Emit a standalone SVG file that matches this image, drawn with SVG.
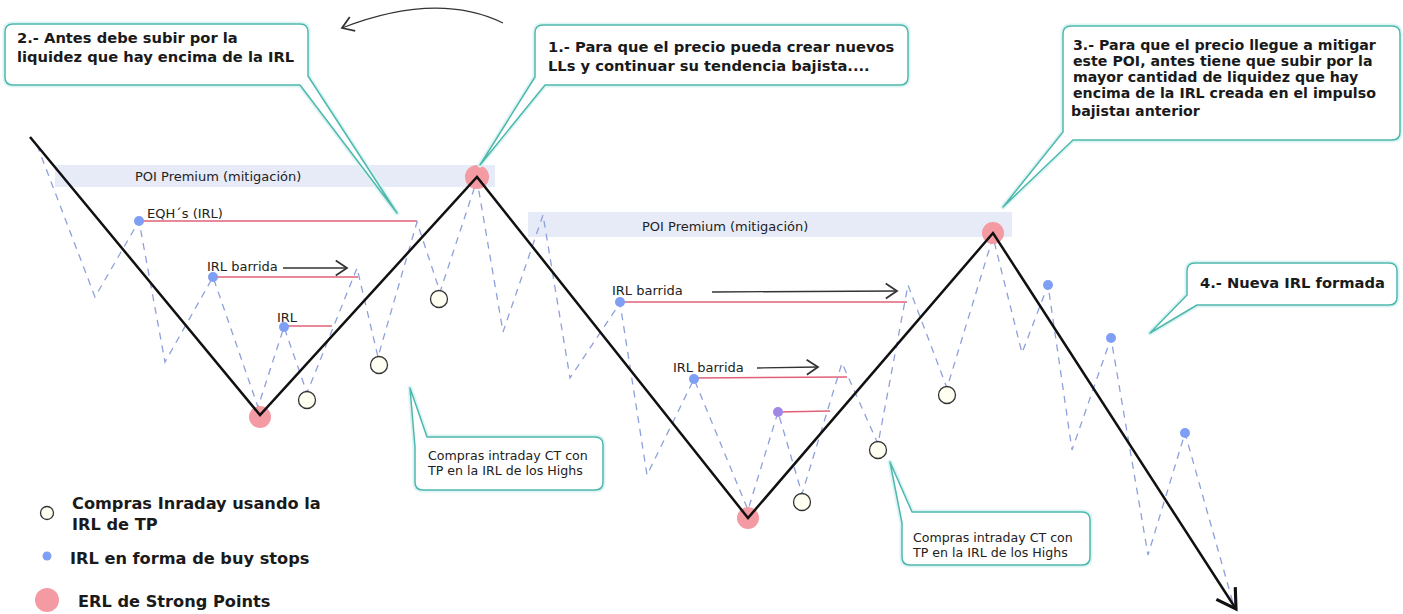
<svg xmlns="http://www.w3.org/2000/svg" width="1403" height="614" viewBox="0 0 1403 614">
<style>
.band{fill:#e7ebf8}
.red{stroke:#e0607a;stroke-width:1.5;fill:none}
.dash{stroke:#8ea0dc;stroke-width:1.3;stroke-dasharray:7 6;fill:none}
.main{stroke:#111;stroke-width:2.5;fill:none;stroke-linejoin:miter}
.erl{fill:#f39aa3}
.irl{fill:#7f9ff5}
.oc{fill:#fffff2;stroke:#333;stroke-width:1.3}
.glow{fill:none;stroke:#dcf4f3;stroke-width:5;stroke-linejoin:round}
.co{fill:#fff;stroke:#4fb8ae;stroke-width:1.5;stroke-linejoin:round}
.ct{font-family:"DejaVu Sans",Verdana,sans-serif;font-weight:bold;font-size:14.7px;fill:#1a1a1a}
.ct3{font-family:"DejaVu Sans",Verdana,sans-serif;font-weight:bold;font-size:14.2px;fill:#1a1a1a}
.lb{font-family:"DejaVu Sans",Verdana,sans-serif;font-size:13px;fill:#222}
.st{font-family:"DejaVu Sans",Verdana,sans-serif;font-size:12.6px;fill:#222}
.lg{font-family:"DejaVu Sans",Verdana,sans-serif;font-weight:bold;font-size:16.2px;fill:#1a1a1a}
.arr{stroke:#333;stroke-width:1.3;fill:none}
</style>
<defs>
<marker id="ah" markerUnits="userSpaceOnUse" markerWidth="20" markerHeight="20" viewBox="-12 -8 14 16" refX="0" refY="0" orient="auto">
<path d="M-9,-6 L0,0 L-9,6" fill="none" stroke="#333" stroke-width="1.4"/>
</marker>
<marker id="bh" markerUnits="userSpaceOnUse" markerWidth="30" markerHeight="30" viewBox="-18 -12 22 24" refX="0" refY="0" orient="auto">
<path d="M-15,-9 L0,0 L-15,9" fill="none" stroke="#111" stroke-width="2.5"/>
</marker>
</defs>
<rect width="1403" height="614" fill="#fff"/>

<g id="poi-bands">
<rect class="band" x="55" y="165" width="440" height="22"/>
<text class="lb" x="135" y="181">POI Premium (mitigación)</text>
<rect class="band" x="528" y="212" width="484" height="25"/>
<text class="lb" x="642" y="231">POI Premium (mitigación)</text>
</g>

<g id="irl-lines">
<line class="red" x1="139" y1="221" x2="417" y2="221"/>
<line class="red" x1="213" y1="277" x2="358" y2="277"/>
<line class="red" x1="284" y1="326" x2="332" y2="326"/>
<line class="red" x1="620" y1="302" x2="907" y2="302"/>
<line class="red" x1="694" y1="378" x2="847" y2="377"/>
<line class="red" x1="778" y1="412" x2="830" y2="411"/>
</g>

<g id="connectors">
<path class="dash" d="M37,145 L95,297 L139,221 L165,362 L213,277 L258,407 L284,327 L307,393 L357,268 L378,357 L417,222 L440,292 L477,180 L503,332 L543,215 L570,378 L620,303 L647,475 L694,379 L748,510 L778,412 L802,494 L842,363 L878,444 L908,285 L947,388 L993,237 L1022,353 L1048,285 L1072,450 L1111,338 L1148,555 L1185,433 L1233,603"/>
<g id="erl-points">
<circle class="erl" cx="260" cy="417" r="11"/>
<circle class="erl" cx="477" cy="177" r="12"/>
<circle class="erl" cx="748" cy="518" r="11"/>
<circle class="erl" cx="993" cy="233" r="11"/>
</g>
<path class="main" d="M30,137 L260,415 L477,177 L748,518 L993,233 L1236,609" marker-end="url(#bh)"/>
<line class="arr" x1="283" y1="268" x2="347" y2="268" marker-end="url(#ah)"/>
<line class="arr" x1="712" y1="292" x2="897" y2="291" marker-end="url(#ah)"/>
<line class="arr" x1="757" y1="368" x2="818" y2="367" marker-end="url(#ah)"/>
<path class="arr" d="M503,23 Q437,-9 342,28" marker-end="url(#ah)"/>
</g>

<g id="irl-dots">
<circle class="irl" cx="139" cy="221" r="5"/>
<circle class="irl" cx="213" cy="277" r="5"/>
<circle class="irl" cx="284" cy="327" r="5"/>
<circle class="irl" cx="620" cy="302" r="5"/>
<circle class="irl" cx="694" cy="379" r="5"/>
<circle cx="778" cy="412" r="5" fill="#a287e6"/>
<circle class="irl" cx="1048" cy="285" r="5"/>
<circle class="irl" cx="1111" cy="338" r="5"/>
<circle class="irl" cx="1185" cy="433" r="5"/>
</g>

<g id="entries">
<circle class="oc" cx="307" cy="400" r="8.5"/>
<circle class="oc" cx="379" cy="365" r="8.5"/>
<circle class="oc" cx="439" cy="299" r="8.5"/>
<circle class="oc" cx="802" cy="502" r="8.5"/>
<circle class="oc" cx="878" cy="450" r="8.5"/>
<circle class="oc" cx="947" cy="395" r="8.5"/>
</g>

<g id="labels">
<text class="lb" x="147" y="218">EQH´s (IRL)</text>
<text class="lb" x="207" y="271">IRL barrida</text>
<text class="lb" x="277" y="322">IRL</text>
<text class="lb" x="612" y="295">IRL barrida</text>
<text class="lb" x="673" y="372">IRL barrida</text>
</g>

<g id="callout-2">
<path class="glow" d="M13,24 H300 Q308,24 308,32 V76 L397,213 L300,85 H13 Q5,85 5,77 V32 Q5,24 13,24 Z"/>
<path class="co" d="M13,24 H300 Q308,24 308,32 V76 L397,213 L300,85 H13 Q5,85 5,77 V32 Q5,24 13,24 Z"/>
<text class="ct" x="17" y="43">2.- Antes debe subir por la</text>
<text class="ct" x="17" y="62">liquidez que hay encima de la IRL</text>
</g>

<g id="callout-1">
<path class="glow" d="M543,25 H900 Q908,25 908,33 V77 Q908,85 900,85 H545 L480,165 L535,77 V33 Q535,25 543,25 Z"/>
<path class="co" d="M543,25 H900 Q908,25 908,33 V77 Q908,85 900,85 H545 L480,165 L535,77 V33 Q535,25 543,25 Z"/>
<text class="ct" x="548" y="52">1.- Para que el precio pueda crear nuevos</text>
<text class="ct" x="548" y="71">LLs y continuar su tendencia bajista....</text>
</g>

<g id="callout-3">
<path class="glow" d="M1071,26 H1392 Q1400,26 1400,34 V132 Q1400,140 1392,140 H1073 L1003,207 L1063,132 V34 Q1063,26 1071,26 Z"/>
<path class="co" d="M1071,26 H1392 Q1400,26 1400,34 V132 Q1400,140 1392,140 H1073 L1003,207 L1063,132 V34 Q1063,26 1071,26 Z"/>
<text class="ct3" x="1073" y="50">3.- Para que el precio llegue a mitigar</text>
<text class="ct3" x="1073" y="66">este POI, antes tiene que subir por la</text>
<text class="ct3" x="1073" y="82">mayor cantidad de liquidez que hay</text>
<text class="ct3" x="1073" y="98">encima de la IRL creada en el impulso</text>
<text class="ct3" x="1071" y="116">bajistaı anterior</text>
</g>

<g id="callout-4">
<path class="glow" d="M1195,263 H1389 Q1397,263 1397,271 V297 Q1397,305 1389,305 H1197 L1150,333 L1187,295 V271 Q1187,263 1195,263 Z"/>
<path class="co" d="M1195,263 H1389 Q1397,263 1397,271 V297 Q1397,305 1389,305 H1197 L1150,333 L1187,295 V271 Q1187,263 1195,263 Z"/>
<text class="ct" x="1200" y="288">4.- Nueva IRL formada</text>
</g>

<g id="callout-compras-1">
<path class="glow" d="M427,437 H595 Q603,437 603,445 V482 Q603,490 595,490 H423 Q415,490 415,482 V447 L410,388 Z"/>
<path class="co" d="M427,437 H595 Q603,437 603,445 V482 Q603,490 595,490 H423 Q415,490 415,482 V447 L410,388 Z"/>
<text class="st" x="428" y="460">Compras intraday CT con</text>
<text class="st" x="428" y="475">TP en la IRL de los Highs</text>
</g>

<g id="callout-compras-2">
<path class="glow" d="M912,512 H1082 Q1090,512 1090,520 V557 Q1090,565 1082,565 H910 Q902,565 902,557 V523 L890,462 Z"/>
<path class="co" d="M912,512 H1082 Q1090,512 1090,520 V557 Q1090,565 1082,565 H910 Q902,565 902,557 V523 L890,462 Z"/>
<text class="st" x="913" y="542">Compras intraday CT con</text>
<text class="st" x="913" y="557">TP en la IRL de los Highs</text>
</g>

<g id="legend">
<circle class="oc" cx="47" cy="513" r="6.5"/>
<text class="lg" x="72" y="509">Compras Inraday usando la</text>
<text class="lg" x="72" y="530">IRL de TP</text>
<circle class="irl" cx="47" cy="556" r="4.5"/>
<text class="lg" x="70" y="564">IRL en forma de buy stops</text>
<circle class="erl" cx="47" cy="600" r="12"/>
<text class="lg" x="78" y="607">ERL de Strong Points</text>
</g>
</svg>
